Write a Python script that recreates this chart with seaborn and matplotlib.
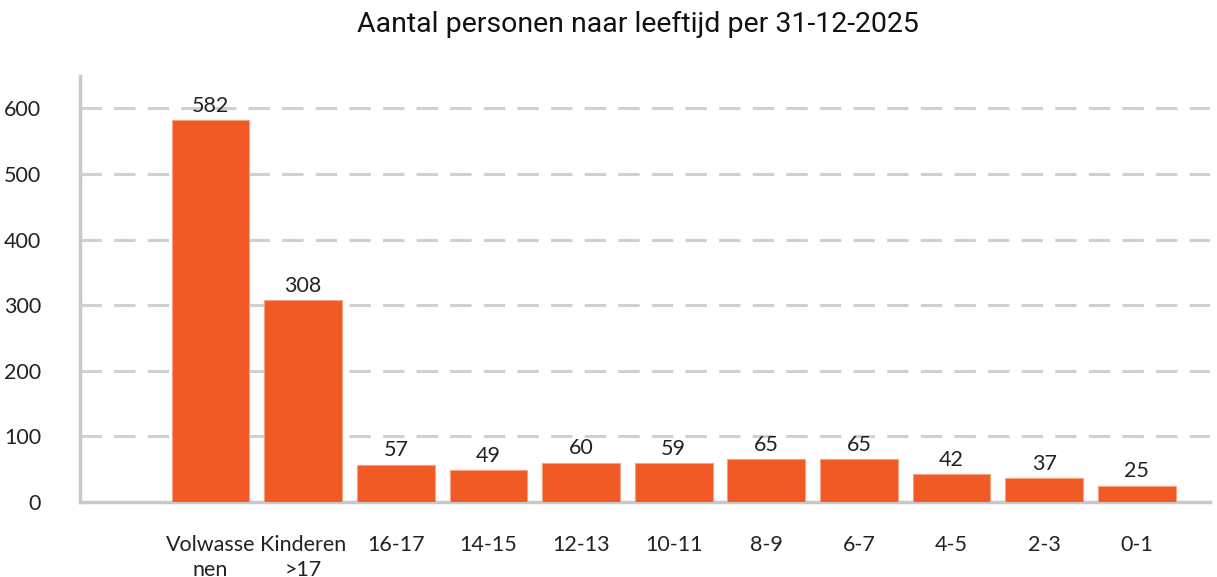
import numpy as np
import pandas as pd
import matplotlib
matplotlib.use("Agg")
import matplotlib.pyplot as plt
import seaborn as sns

# data
categories = ["Volwassenen", "Kinderen >17", "16-17", "14-15", "12-13", "10-11",
              "8-9", "6-7", "4-5", "2-3", "0-1"]
tick_labels = ["", "Volwasse\nnen", "Kinderen\n>17", "16-17", "14-15", "12-13", "10-11",
               "8-9", "6-7", "4-5", "2-3", "0-1"]
counts = [582, 308, 57, 49, 60, 59, 65, 65, 42, 37, 25]
title = "Aantal personen naar leeftijd per 31-12-2025"

df = pd.DataFrame({"groep": categories, "aantal": counts})

sns.set_style("white")
plt.rcParams['font.family'] = ['Lato', 'DejaVu Sans']

fig = plt.figure(figsize=(12.17, 5.77), dpi=100)
ax = fig.add_axes([0.0657, 0.130, 0.9285, 0.738])

order = [" "] + categories
sns.barplot(data=df, x="groep", y="aantal", order=order, color="#F15A24",
            saturation=1, width=0.84, edgecolor="#f7a27f", linewidth=0.8, ax=ax, zorder=3)

for c in ax.containers:
    labels = [f"{v:.0f}" if not np.isnan(v) else "" for v in c.datavalues]
    ax.bar_label(c, labels=labels, padding=3, fontsize=15.5, color="#222222")

ax.set_ylim(0, 649)
ax.set_xlim(-0.41, 11.79)
ax.set_yticks([0, 100, 200, 300, 400, 500, 600])
ax.set_xticks(range(len(tick_labels)))
ax.set_xticklabels(tick_labels, linespacing=1.3)
ax.tick_params(axis="both", length=0, labelsize=15.5, colors="#222222")
ax.tick_params(axis="y", pad=28)
ax.tick_params(axis="x", pad=24)
ax.set_xlabel("")
ax.set_ylabel("")

ax.yaxis.grid(True, color="#d0d0d0", linestyle=(0, (7, 4)), linewidth=2.2, zorder=0)
ax.set_axisbelow(True)
for s in ["top", "right"]:
    ax.spines[s].set_visible(False)
for s in ["left", "bottom"]:
    ax.spines[s].set_color("#c8c8c8")
    ax.spines[s].set_linewidth(2.5)

fig.text(0.524, 0.957, title, ha="center", va="center", fontsize=20.5,
         family=["Roboto", "DejaVu Sans"], color="#111111")

fig.savefig("out.png", dpi=100)
